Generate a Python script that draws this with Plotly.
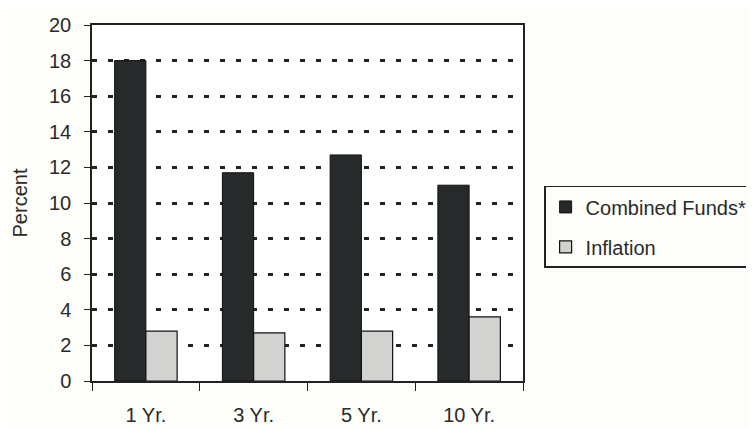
import plotly.graph_objects as go

categories = ["1 Yr.", "3 Yr.", "5 Yr.", "10 Yr."]
combined_funds = [18.0, 11.7, 12.7, 11.0]
inflation = [2.8, 2.7, 2.8, 3.6]
y_ticks = [0, 2, 4, 6, 8, 10, 12, 14, 16, 18, 20]

fig = go.Figure()
fig.add_trace(go.Bar(
    x=categories, y=combined_funds, name="Combined Funds*", legendgroup="a",
    marker=dict(color="#272a2b", line=dict(color="#111111", width=1)),
))
fig.add_trace(go.Bar(
    x=categories, y=inflation, name="Inflation", legendgroup="b",
    marker=dict(color="#d2d2d0", line=dict(color="#111111", width=1.2)),
))

font = dict(family="Liberation Sans, Arial, sans-serif", size=20, color="#2a2a2a")

# page body has an 8px margin; the figure is a bit wider than the window so the
# legend (clipped at the window edge, as in the original) does not push margins
fig.update_layout(
    template="none",
    width=780, height=428,
    margin=dict(l=84, r=265, t=17, b=55),
    paper_bgcolor="#fdfdf9",
    plot_bgcolor="#ffffff",
    barmode="group",
    bargap=0.42,
    bargroupgap=0,
    font=font,
    showlegend=True,
    legend=dict(
        x=1.049, y=0.548, xanchor="left", yanchor="top",
        bordercolor="#222222", borderwidth=1.5,
        bgcolor="#fdfdf9",
        font=font,
        itemwidth=30,
        tracegroupgap=11,
    ),
    xaxis=dict(
        automargin=False,
        showline=True, linecolor="#222222", linewidth=1.5, mirror=True,
        ticks="outside", tickson="boundaries", ticklen=8, tickcolor="#222222",
        tickfont=font, showgrid=False, ticklabelstandoff=15,
    ),
    yaxis=dict(
        automargin=False,
        range=[0, 20], tickvals=y_ticks,
        showline=True, linecolor="#222222", linewidth=1.5, mirror=True,
        ticks="outside", ticklen=6, tickcolor="#222222",
        tickfont=font, ticklabelstandoff=9,
        showgrid=True, gridcolor="#222222", gridwidth=2.5, griddash="5px,11px",
        title=dict(text="Percent", font=font, standoff=16),
        zeroline=False,
    ),
)

fig.write_html("out.html")
